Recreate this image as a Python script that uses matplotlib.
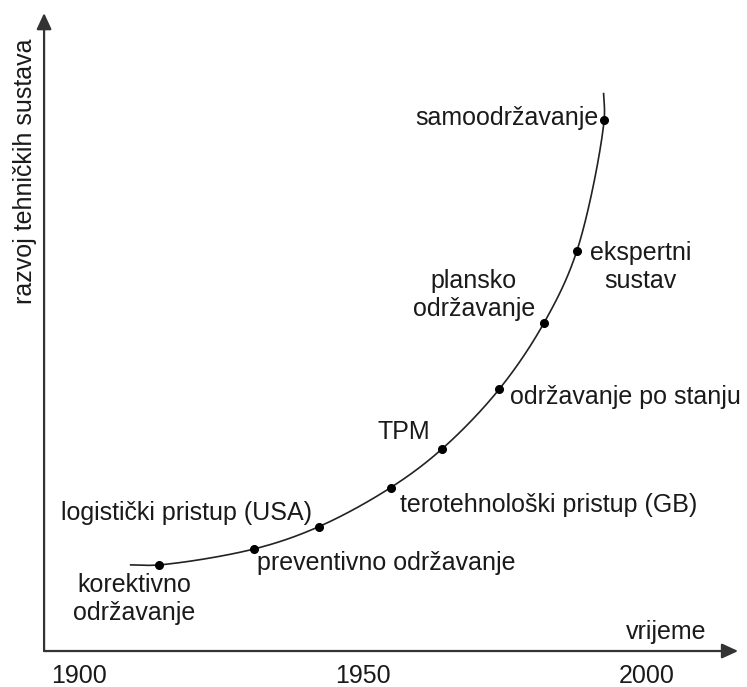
import numpy as np
import matplotlib
matplotlib.use("Agg")
import matplotlib.pyplot as plt

plt.rcParams['font.family'] = ['Liberation Sans', 'DejaVu Sans']

# ---- data (schematic: year, development level) ----
stages = ["korektivno\nodržavanje", "preventivno održavanje", "logistički pristup (USA)",
          "terotehnološki pristup (GB)", "TPM", "održavanje po stanju",
          "plansko\nodržavanje", "ekspertni\nsustav", "samoodržavanje"]
stage_year = [1914.2, 1930.9, 1942.3, 1954.9, 1964.0, 1974.0, 1981.9, 1987.7, 1992.5]
stage_level = [13.5, 16.0, 19.5, 25.6, 31.7, 41.0, 51.4, 62.7, 83.2]
curve_start = (1909.0, 13.5)
curve_end = (1992.4, 87.5)
tick_years = [1900, 1950, 2000]
tick_labels = ["1900", "1950", "2000"]
xlabel = "vrijeme"
ylabel = "razvoj tehničkih sustava"

# ---- styling: label offsets in pixels, alignment ----
label_style = [
    dict(off=(-25, -34), ha="center"),
    dict(off=(3, -14), ha="left"),
    dict(off=(-7, 14), ha="right"),
    dict(off=(9, -17), ha="left"),
    dict(off=(-38, 17), ha="center"),
    dict(off=(11, -8), ha="left"),
    dict(off=(-70, 28), ha="center"),
    dict(off=(64, -16), ha="center"),
    dict(off=(-6, 2), ha="right"),
]

W, H = 747, 687
DPI = 100
fig = plt.figure(figsize=(W / DPI, H / DPI), dpi=DPI)
ax = fig.add_axes([0, 0, 1, 1])
ax.set_xlim(1886.14, 2017.66)
ax.set_ylim(-5.64, 102.04)
ax.axis("off")

ink = "#1a1a1a"
FS = 18

# axes with arrows
x0, y0 = 1893.9, 0.0
ax.annotate("", xy=(2016.1, y0), xytext=(x0, y0),
            arrowprops=dict(arrowstyle="-|>,head_length=0.65,head_width=0.3",
                            lw=1.6, color="#333333", mutation_scale=15,
                            shrinkA=0, shrinkB=0))
ax.annotate("", xy=(x0, 100.0), xytext=(x0, y0),
            arrowprops=dict(arrowstyle="-|>,head_length=0.65,head_width=0.3",
                            lw=1.6, color="#333333", mutation_scale=15,
                            shrinkA=0, shrinkB=0))


# smooth curve through the stages (centripetal Catmull-Rom, drawing only)
def catmull_rom(pts, n=40, alpha=0.5):
    pts = np.asarray(pts, float)
    P = ax.transData.transform(pts)
    P = np.vstack([2 * P[0] - P[1], P, 2 * P[-1] - P[-2]])
    out = []
    for i in range(1, len(P) - 2):
        p0, p1, p2, p3 = P[i - 1], P[i], P[i + 1], P[i + 2]
        t0 = 0.0
        t1 = t0 + np.linalg.norm(p1 - p0) ** alpha
        t2 = t1 + np.linalg.norm(p2 - p1) ** alpha
        t3 = t2 + np.linalg.norm(p3 - p2) ** alpha
        t = np.linspace(t1, t2, n)[:, None]
        A1 = (t1 - t) / (t1 - t0) * p0 + (t - t0) / (t1 - t0) * p1
        A2 = (t2 - t) / (t2 - t1) * p1 + (t - t1) / (t2 - t1) * p2
        A3 = (t3 - t) / (t3 - t2) * p2 + (t - t2) / (t3 - t2) * p3
        B1 = (t2 - t) / (t2 - t0) * A1 + (t - t0) / (t2 - t0) * A2
        B2 = (t3 - t) / (t3 - t1) * A2 + (t - t1) / (t3 - t1) * A3
        C = (t2 - t) / (t2 - t1) * B1 + (t - t1) / (t2 - t1) * B2
        out.append(C)
    C = np.vstack(out)
    return ax.transData.inverted().transform(C)


pts = [curve_start] + list(zip(stage_year, stage_level)) + [curve_end]
curve = catmull_rom(pts)
ax.plot(curve[:, 0], curve[:, 1], color="#222222", lw=1.2, solid_capstyle="butt")
ax.plot(stage_year, stage_level, "o", color="black", ms=5.5, zorder=3)

for name, xv, yv, st in zip(stages, stage_year, stage_level, label_style):
    ax.annotate(name, xy=(xv, yv), xytext=st["off"], textcoords="offset pixels",
                ha=st["ha"], va="center", multialignment="center",
                fontsize=FS, color=ink)

# tick labels
for yr, lab in zip(tick_years, tick_labels):
    ax.annotate(lab, xy=(yr, 0), xytext=(0, -25), textcoords="offset pixels",
                ha="center", va="center", fontsize=FS, color=ink)

# axis titles
ax.annotate(xlabel, xy=(2016.1, 0), xytext=(-72, 19), textcoords="offset pixels",
            ha="center", va="center", fontsize=FS, color=ink)
ax.annotate(ylabel, xy=(x0, 100.0), xytext=(-19, -158), textcoords="offset pixels",
            ha="center", va="center", rotation=90, fontsize=FS, color=ink)

fig.savefig("out.png", dpi=DPI)
